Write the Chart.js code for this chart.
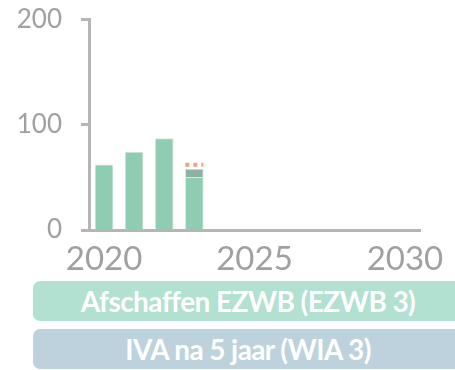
<!DOCTYPE html>
<html>
<head>
<meta charset="utf-8">
<script src="https://cdn.jsdelivr.net/npm/chart.js@4/dist/chart.umd.min.js"></script>
<style>
  html, body { margin: 0; padding: 0; background: #fff; }
  #wrap { position: relative; width: 455px; height: 370px; overflow: hidden; }
  #grafiek { position: absolute; left: 0; top: -15px; }
  .band {
    position: absolute; left: 33px; width: 430px; height: 40px;
    border-radius: 7px; color: #fff; text-align: center;
    font-family: Lato, sans-serif; font-weight: 700; font-size: 28px;
    line-height: 41px; letter-spacing: -0.6px;
  }
  #band1 { top: 281px; background: #b2e0d1; }
  #band2 { top: 329px; background: #bdd2dc; }
</style>
</head>
<body>
<div id="wrap">
  <canvas id="grafiek" width="455" height="295"></canvas>
  <div class="band" id="band1">Afschaffen EZWB (EZWB 3)</div>
  <div class="band" id="band2">IVA na 5 jaar (WIA 3)</div>
</div>
<script>
// jaren en waarden
const jaren = [2020, 2021, 2022, 2023];
const instroom = [62, 74, 87, 50];
const instroomExtra = [null, null, null, 8];
const onzeker = [null, null, null, 4];
const xTicks = [2020, 2025, 2030];
const yTicks = [0, 100, 200];

const asGrijs = '#b5b5b5';
const labelGrijs = '#a0a0a0';

const punten = vals => jaren.map((j, i) => ({ x: j, y: vals[i] }));

// stippellijn bovenop de onzekere marge
const stippelPlugin = {
  id: 'stippel',
  afterDatasetsDraw(chart) {
    const meta = chart.getDatasetMeta(2);
    const ctx = chart.ctx;
    meta.data.forEach((bar, i) => {
      if (onzeker[i] == null) return;
      const p = bar.getProps(['x', 'y', 'width'], true);
      ctx.save();
      ctx.strokeStyle = '#f3a08b';
      ctx.lineWidth = 4;
      ctx.setLineDash([4, 4]);
      ctx.beginPath();
      ctx.moveTo(p.x - p.width / 2, p.y);
      ctx.lineTo(p.x + p.width / 2, p.y);
      ctx.stroke();
      ctx.restore();
    });
  }
};

new Chart(document.getElementById('grafiek').getContext('2d'), {
  type: 'bar',
  data: {
    datasets: [
      {
        data: punten(instroom),
        backgroundColor: '#8ecdb1',
        borderColor: '#dfe6e2',
        borderWidth: 1
      },
      {
        data: punten(instroomExtra),
        backgroundColor: '#8fb1a3',
        borderColor: '#dfe6e2',
        borderWidth: 1
      },
      {
        data: punten(onzeker),
        backgroundColor: 'rgba(0,0,0,0)',
        borderWidth: 0
      }
    ]
  },
  options: {
    responsive: false,
    animation: false,
    barThickness: 18,
    layout: { padding: { top: 4, right: 35, left: 0, bottom: 0 } },
    plugins: { legend: { display: false }, tooltip: { enabled: false } },
    scales: {
      x: {
        type: 'linear',
        stacked: true,
        offset: false,
        min: 2019.5,
        max: 2030.5,
        afterBuildTicks: s => { s.ticks = xTicks.map(v => ({ value: v })); },
        afterFit: s => { s.height = 50; },
        grid: { display: false, drawTicks: false, offset: false },
        border: { color: asGrijs, width: 3 },
        ticks: {
          color: labelGrijs,
          font: { family: 'Lato', size: 33 },
          padding: 10,
          maxRotation: 0,
          callback: v => String(v)
        }
      },
      y: {
        stacked: true,
        min: 0,
        max: 200,
        afterBuildTicks: s => { s.ticks = yTicks.map(v => ({ value: v })); },
        afterFit: s => { s.width = 89; },
        grid: { drawOnChartArea: false, drawTicks: true, tickLength: 8, tickColor: asGrijs, tickWidth: 3 },
        border: { color: asGrijs, width: 3 },
        ticks: {
          color: labelGrijs,
          font: { family: 'Lato', size: 26 },
          padding: 19,
          callback: v => String(v)
        }
      }
    }
  },
  plugins: [stippelPlugin]
});
</script>
</body>
</html>
